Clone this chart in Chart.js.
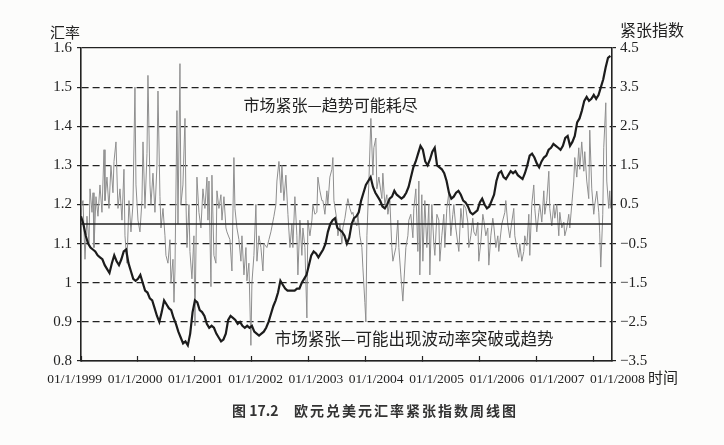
<!DOCTYPE html>
<html>
<head>
<meta charset="utf-8">
<script src="https://cdn.jsdelivr.net/npm/chart.js@4.4.1/dist/chart.umd.min.js"></script>
<style>
  html, body { margin: 0; padding: 0; background: #fcfcfb; }
  #wrap { width: 724px; height: 445px; }
</style>
</head>
<body>
<div id="wrap"><canvas id="chart" width="724" height="445"></canvas></div>
<script>
// EUR/USD, two readings per month from Jan 1999
const eurStartYear = 1999;
const eurPerYear = 24;
const eurUsd = [
  1.17, 1.15, 1.12, 1.10, 1.09, 1.085, 1.08, 1.07, 1.065, 1.06, 1.045, 1.035, 1.025, 1.05, 1.07, 1.055, 1.045, 1.06, 1.08, 1.085, 1.05, 1.03, 1.01, 1.005,
  1.01, 1.02, 1.00, 0.98, 0.975, 0.96, 0.955, 0.935, 0.915, 0.90, 0.925, 0.955, 0.945, 0.935, 0.93, 0.91, 0.895, 0.875, 0.86, 0.845, 0.85, 0.84, 0.87, 0.925,
  0.955, 0.95, 0.93, 0.925, 0.915, 0.895, 0.885, 0.89, 0.885, 0.87, 0.86, 0.85, 0.855, 0.87, 0.905, 0.915, 0.91, 0.905, 0.895, 0.90, 0.89, 0.885, 0.89, 0.885,
  0.89, 0.875, 0.87, 0.865, 0.87, 0.875, 0.885, 0.90, 0.92, 0.94, 0.955, 0.975, 1.005, 0.995, 0.985, 0.98, 0.98, 0.98, 0.98, 0.985, 0.985, 1.0, 1.01, 1.02,
  1.045, 1.07, 1.08, 1.075, 1.065, 1.075, 1.085, 1.10, 1.13, 1.15, 1.16, 1.165, 1.14, 1.135, 1.13, 1.12, 1.10, 1.115, 1.15, 1.165, 1.17, 1.18, 1.21, 1.23,
  1.25, 1.26, 1.27, 1.245, 1.23, 1.22, 1.21, 1.195, 1.19, 1.20, 1.215, 1.22, 1.235, 1.225, 1.22, 1.215, 1.22, 1.23, 1.245, 1.27, 1.295, 1.31, 1.33, 1.35,
  1.34, 1.31, 1.30, 1.315, 1.335, 1.345, 1.30, 1.295, 1.29, 1.28, 1.26, 1.23, 1.215, 1.22, 1.23, 1.235, 1.225, 1.21, 1.205, 1.195, 1.18, 1.175, 1.18, 1.185,
  1.205, 1.215, 1.20, 1.19, 1.195, 1.21, 1.225, 1.26, 1.28, 1.285, 1.27, 1.265, 1.275, 1.285, 1.28, 1.285, 1.275, 1.27, 1.265, 1.28, 1.30, 1.325, 1.33, 1.32,
  1.305, 1.295, 1.31, 1.32, 1.325, 1.34, 1.345, 1.355, 1.35, 1.345, 1.34, 1.35, 1.37, 1.375, 1.35, 1.36, 1.375, 1.41, 1.42, 1.44, 1.465, 1.475, 1.465, 1.47,
  1.48, 1.47, 1.48, 1.50, 1.52, 1.55, 1.575, 1.58
];

// tension index (right axis), read week by week off the picture
const tensionDate = [
  1999.000, 1999.035, 1999.070, 1999.105, 1999.140, 1999.158, 1999.193, 1999.211, 1999.228, 1999.263, 1999.298, 1999.333, 1999.368, 1999.404, 1999.421, 1999.456, 1999.491, 1999.526, 1999.561, 1999.579, 1999.614, 1999.649, 1999.684, 1999.719, 1999.754, 1999.772, 1999.807, 1999.842, 1999.877, 1999.912, 1999.947, 1999.965,
  2000.000, 2000.035, 2000.070, 2000.088, 2000.123, 2000.158, 2000.175, 2000.211, 2000.228, 2000.263, 2000.298, 2000.333, 2000.351, 2000.386, 2000.404, 2000.439, 2000.474, 2000.491, 2000.526, 2000.561, 2000.579, 2000.614, 2000.632, 2000.649, 2000.684, 2000.702, 2000.737, 2000.754, 2000.789, 2000.825, 2000.842, 2000.860, 2000.895, 2000.912, 2000.947, 2000.982,
  2001.000, 2001.035, 2001.070, 2001.105, 2001.140, 2001.175, 2001.211, 2001.228, 2001.246, 2001.281, 2001.298, 2001.333, 2001.368, 2001.386, 2001.421, 2001.456, 2001.474, 2001.509, 2001.544, 2001.561, 2001.614, 2001.649, 2001.684, 2001.702, 2001.737, 2001.772, 2001.807, 2001.825, 2001.860, 2001.895, 2001.912, 2001.947, 2001.982,
  2002.000, 2002.035, 2002.070, 2002.088, 2002.123, 2002.158, 2002.193, 2002.211, 2002.263, 2002.298, 2002.333, 2002.386, 2002.421, 2002.439, 2002.474, 2002.509, 2002.526, 2002.561, 2002.596, 2002.632, 2002.667, 2002.702, 2002.719, 2002.754, 2002.789, 2002.807, 2002.842, 2002.877, 2002.895, 2002.930, 2002.965, 2002.982,
  2003.018, 2003.053, 2003.070, 2003.105, 2003.140, 2003.158, 2003.193, 2003.228, 2003.246, 2003.281, 2003.316, 2003.333, 2003.368, 2003.404, 2003.421, 2003.439, 2003.491, 2003.509, 2003.544, 2003.579, 2003.596, 2003.632, 2003.667, 2003.684, 2003.719, 2003.754, 2003.772, 2003.807, 2003.842, 2003.860, 2003.895, 2003.930, 2003.947, 2003.982,
  2004.000, 2004.018, 2004.053, 2004.088, 2004.123, 2004.140, 2004.175, 2004.193, 2004.228, 2004.281, 2004.298, 2004.333, 2004.368, 2004.386, 2004.421, 2004.456, 2004.474, 2004.526, 2004.561, 2004.579, 2004.614, 2004.649, 2004.667, 2004.702, 2004.737, 2004.754, 2004.789, 2004.825, 2004.842, 2004.877, 2004.912, 2004.930, 2004.947, 2004.982,
  2005.000, 2005.035, 2005.070, 2005.105, 2005.123, 2005.158, 2005.193, 2005.211, 2005.246, 2005.281, 2005.298, 2005.333, 2005.368, 2005.386, 2005.421, 2005.456, 2005.491, 2005.526, 2005.544, 2005.579, 2005.614, 2005.632, 2005.667, 2005.702, 2005.719, 2005.754, 2005.789, 2005.807, 2005.842, 2005.877, 2005.895, 2005.930, 2005.965, 2005.982,
  2006.018, 2006.053, 2006.070, 2006.105, 2006.140, 2006.158, 2006.193, 2006.228, 2006.246, 2006.281, 2006.316, 2006.333, 2006.386, 2006.439, 2006.456, 2006.491, 2006.526, 2006.561, 2006.596, 2006.614, 2006.649, 2006.684, 2006.702, 2006.737, 2006.772, 2006.789, 2006.825, 2006.860, 2006.877, 2006.912, 2006.947, 2006.965,
  2007.000, 2007.035, 2007.053, 2007.088, 2007.123, 2007.140, 2007.175, 2007.211, 2007.228, 2007.263, 2007.298, 2007.316, 2007.351, 2007.386, 2007.404, 2007.439, 2007.474, 2007.491, 2007.526, 2007.561, 2007.579, 2007.614, 2007.649, 2007.667, 2007.702, 2007.737, 2007.754, 2007.789, 2007.825, 2007.842, 2007.877, 2007.912, 2007.930, 2007.965,
  2008.000, 2008.018, 2008.053, 2008.088, 2008.105, 2008.123, 2008.158, 2008.175, 2008.211, 2008.228, 2008.263, 2008.281, 2008.298
];
const tensionValue = [
  0.4, 0.6, -0.9, 0.2, -0.5, 0.9, 0.3, 0.8, -0.6, 0.7, 0.2, 1.0, 0.3, 1.9, 0.6, 1.2, 0.4, 1.5, 0.8, 1.6, 2.1, 0.4, 0.9, 0.1, 1.4, -0.3, -1.0, 0.6, -0.2, 0.5, 3.5, 1.0,
  0.1, -0.2, 0.6, 2.1, 0.4, 1.8, 3.8, 1.0, 0.5, 1.3, 0.3, 1.5, 3.4, 0.7, -0.1, 0.4, -0.3, -0.8, -1.0, -0.4, -1.5, -0.9, -2.0, -1.2, 2.9, 0.0, 4.1, 0.5, 1.0, 2.7, 0.6, -0.6, 0.5, -0.7, -1.4, -0.3,
  -2.6, 1.2, 0.3, -0.1, 0.9, 0.4, 1.2, 0.1, 1.1, -1.6, 1.25, -0.8, -1.0, 0.85, 0.4, 0.75, 0.1, 0.7, -0.1, -0.2, -0.4, -1.2, 1.7, 0.4, -0.1, -0.4, -0.95, -0.3, -1.3, -0.6, -1.45, -1.0, -3.1,
  -1.5, -0.8, 0.5, -0.95, -0.3, -0.6, -1.2, -0.5, -0.6, -0.4, -0.2, 0.2, 0.5, 1.1, 1.6, 0.8, 1.5, 0.6, 1.25, 0.25, -0.6, 0.0, -0.6, 0.7, -0.3, -1.3, 0.1, -0.8, -0.1, -0.6, -2.4, 0.1,
  -0.3, 0.1, 0.5, 0.25, 0.3, 1.2, 0.85, 0.6, 0.6, 0.25, 0.85, 0.5, 1.2, 1.4, 1.7, 0.6, 0.1, -0.3, 0.0, -0.5, -0.1, 0.15, 0.5, 0.65, 0.4, 0.25, 0.3, 0.05, -0.05, 0.25, -0.3, -0.6, -1.1, -2.0,
  -2.5, -0.3, 1.1, 2.7, 1.25, 1.95, 2.2, 0.9, 1.2, 0.65, 1.3, 0.5, 0.75, 0.25, 0.6, -0.6, -0.95, -0.6, 0.1, -0.6, -1.3, -1.97, -1.5, -0.6, -0.3, 0.1, 0.25, -0.35, 0.4, 0.9, -0.7, 1.1, -1.3, 0.75,
  -0.95, 0.6, -0.6, 0.5, -1.3, 0.5, -0.5, -0.8, 0.25, 0.1, -0.95, -0.3, 0.25, -0.6, 0.4, 0.8, -0.3, 0.25, 0.5, -0.1, -0.5, -0.7, 0.4, -0.1, 0.5, 0.4, 0.05, -0.6, -0.3, 0.15, -0.2, -0.3, 0.05, -0.95,
  -0.45, 0.25, 0.1, -0.3, -0.1, -1.05, -0.3, 0.15, -0.05, -0.6, -0.3, -0.7, 0.0, 0.3, 0.6, 0.0, -0.35, 0.05, 0.4, -0.3, -0.6, -0.85, -0.5, -0.95, -0.7, -0.3, -0.55, 0.25, -0.8, 0.5, 1.0, 0.4,
  -0.2, 0.3, 0.5, 0.05, 0.85, 0.25, 0.6, 1.35, 0.4, -0.05, 0.5, 0.15, 0.5, -0.3, 0.3, -0.1, 0.05, -0.3, -0.1, 0.25, -0.1, 0.5, 1.1, 1.7, 1.2, 1.95, 1.4, 2.1, 1.35, 1.85, 1.1, 0.65, 2.4, 0.9,
  0.25, 0.5, 0.84, 0.3, -0.25, -1.1, 0.25, 1.95, 3.1, 1.1, 0.4, 0.85, 0.4
];

const zeroLine = [0, 0];
const xRange = [1999, 2008.32];
const yearTicks = [1999, 2000, 2001, 2002, 2003, 2004, 2005, 2006, 2007, 2008];
const rateTicks = [0.8, 0.9, 1.0, 1.1, 1.2, 1.3, 1.4, 1.5, 1.6];
const tensionTicks = [-3.5, -2.5, -1.5, -0.5, 0.5, 1.5, 2.5, 3.5, 4.5];

const leftTitle = '汇率';
const rightTitle = '紧张指数';
const xTitle = '时间';
const noteTop = '市场紧张—趋势可能耗尽';
const noteBottom = '市场紧张—可能出现波动率突破或趋势';
const captionNo = '图 17.2';
const captionText = '欧元兑美元汇率紧张指数周线图';

const numFont = { family: "'Liberation Serif', 'DejaVu Serif', serif", size: 15 };
const cjk = "'Noto Sans CJK SC', sans-serif";
const ink = '#222';

const textPlugin = {
  id: 'texts',
  afterDraw(chart) {
    const c = chart.ctx;
    const xs = chart.scales.x, ys = chart.scales.y;
    c.save();
    c.fillStyle = ink;
    c.textBaseline = 'middle';
    c.textAlign = 'left';
    c.font = `15px ${cjk}`;
    c.fillText(leftTitle, 50, 32);
    c.fillText(xTitle, 648, 377);
    c.font = `16px ${cjk}`;
    c.fillText(rightTitle, 620, 30);
    // annotations sit in data space
    c.font = `16px ${cjk}`;
    c.fillText(noteTop, xs.getPixelForValue(2001.85), ys.getPixelForValue(1.455));
    c.font = `16.5px ${cjk}`;
    c.fillText(noteBottom, xs.getPixelForValue(2002.4), ys.getPixelForValue(0.858));
    c.font = `bold 14px ${cjk}`;
    c.fillStyle = '#333';
    c.fillText(captionNo, 232, 411);
    c.letterSpacing = '2px';
    c.fillText(captionText, 294, 411);
    c.restore();
  }
};

new Chart(document.getElementById('chart'), {
  type: 'line',
  data: {
    datasets: [
      {
        label: 'EUR/USD',
        data: eurUsd.map((v, i) => ({ x: eurStartYear + i / eurPerYear, y: v })),
        yAxisID: 'y',
        borderColor: '#1c1c1c',
        borderWidth: 2.2,
        pointRadius: 0,
        tension: 0
      },
      {
        label: 'zero',
        data: zeroLine.map((v, i) => ({ x: xRange[i], y: v })),
        yAxisID: 'y2',
        borderColor: '#222',
        borderWidth: 1.6,
        pointRadius: 0
      },
      {
        label: 'tension',
        data: tensionDate.map((d, i) => ({ x: d, y: tensionValue[i] })),
        yAxisID: 'y2',
        borderColor: '#8e8e8e',
        borderWidth: 1,
        pointRadius: 0,
        tension: 0
      }
    ]
  },
  options: {
    responsive: false,
    animation: false,
    devicePixelRatio: 1,
    layout: { padding: { top: 48, left: 0, right: 0, bottom: 0 } },
    plugins: { legend: { display: false }, tooltip: { enabled: false } },
    scales: {
      x: {
        type: 'linear',
        position: 'bottom',
        weight: 0,
        min: xRange[0],
        max: xRange[1],
        afterBuildTicks: s => { s.ticks = yearTicks.map(v => ({ value: v })); },
        afterFit: s => { s.height = 0; },
        grid: { drawOnChartArea: false, tickLength: -5, tickColor: ink, tickWidth: 1.2 },
        border: { color: ink, width: 1.6 },
        ticks: { display: false }
      },
      xl: {
        type: 'linear',
        position: 'bottom',
        weight: 1,
        min: 1999.1045,
        max: 2007.91,
        afterBuildTicks: s => { s.ticks = yearTicks.map(v => ({ value: v })); },
        afterFit: s => { s.height = 84; },
        grid: { display: false, drawTicks: false },
        border: { display: false },
        ticks: {
          autoSkip: false, maxRotation: 0, padding: 10,
          color: ink, font: { family: numFont.family, size: 13.5 },
          callback: v => '01/1/' + v
        }
      },
      y: {
        position: 'left',
        min: 0.8,
        max: 1.6,
        afterBuildTicks: s => { s.ticks = rateTicks.map(v => ({ value: v })); },
        afterFit: s => { s.width = 81; },
        grid: { color: ink, lineWidth: 1.2, tickLength: 4 },
        border: {
          color: ink, width: 1.6,
          dash: c => (c.tick && (c.tick.value > 1.59 || c.tick.value < 0.81)) ? [] : [7, 4]
        },
        ticks: { padding: 5, color: ink, font: numFont, callback: v => String(Math.round(v * 10) / 10) }
      },
      y2: {
        position: 'right',
        min: -3.5,
        max: 4.5,
        afterBuildTicks: s => { s.ticks = tensionTicks.map(v => ({ value: v })); },
        afterFit: s => { s.width = 112; },
        grid: { drawOnChartArea: false, color: ink, tickLength: 4, lineWidth: 1.2 },
        border: { color: ink, width: 1.6 },
        ticks: { padding: 4, color: ink, font: numFont, callback: v => (v < 0 ? '−' : '') + Math.abs(v).toFixed(1) }
      }
    }
  },
  plugins: [textPlugin]
});
</script>
</body>
</html>
